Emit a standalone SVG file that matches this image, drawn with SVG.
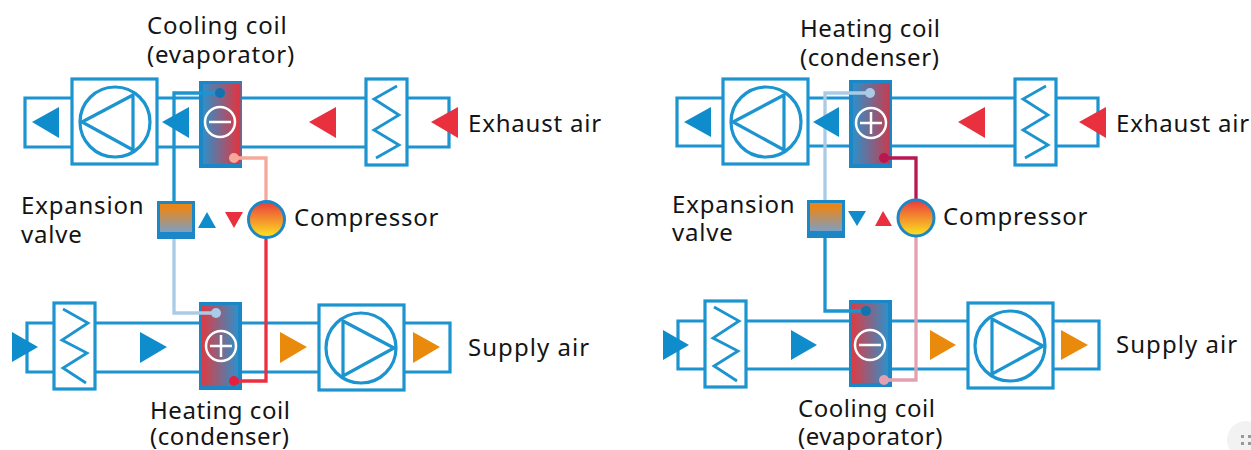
<svg xmlns="http://www.w3.org/2000/svg" width="1251" height="450" viewBox="0 0 1251 450">
<style>
.d{fill:none;stroke:#1c94cf;stroke-width:3.2}
.b{fill:#fff;stroke:#1c94cf;stroke-width:3.2}
.z{fill:none;stroke:#1c94cf;stroke-width:2.8}
.c{fill:none;stroke-width:3.3}
.w{fill:none;stroke:#fff;stroke-width:2.5}
.t{font-family:"Noto Sans",sans-serif;font-size:24px;fill:#141414;letter-spacing:.8px}
.h{letter-spacing:.55px}
.s{letter-spacing:1.05px}
.bl{fill:#0f8ccb}.rd{fill:#e8303f}.or{fill:#ea8a0c}
.k{fill:#1c87c6}
</style>
<defs>
<linearGradient id="br"><stop offset="0" stop-color="#2f8fc9"/><stop offset="1" stop-color="#e5333d"/></linearGradient>
<linearGradient id="br2"><stop offset="0" stop-color="#2f8fc9"/><stop offset="1" stop-color="#c83c4e"/></linearGradient>
<linearGradient id="rb"><stop offset="0" stop-color="#e03a40"/><stop offset="1" stop-color="#2f8fc9"/></linearGradient>
<linearGradient id="ov" x2="0" y2="1"><stop offset=".15" stop-color="#e8861a"/><stop offset="1" stop-color="#7d9fc4"/></linearGradient>
<linearGradient id="cp" x2="0" y2="1"><stop offset="0" stop-color="#ea3a3c"/><stop offset="1" stop-color="#fde61f"/></linearGradient>
<g id="fan"><rect class="b" x="0" y="0" width="85" height="85"/><circle class="d" cx="43" cy="43" r="35"/><path class="d" d="M10 43L61 16V71Z"/></g>
<g id="hx-top"><rect class="b" x="0" y="0" width="41" height="86"/><path class="z" d="M31 7L8 20L33 36L8 51L33 66L10 79"/></g>
<g id="hx-low"><rect class="b" x="0" y="0" width="41" height="86"/><path class="z" d="M9 6L34 20L8 37L33 50L9 65L32 80"/></g>
</defs>
<rect width="1251" height="450" fill="#fff"/>
<g id="left-ducts"><path class="d" d="M71 98H25V147H71M157 98H366M157 147H366M406 98H449V147H406"/><path class="d" d="M54 323H27V372H54M96 323H318M96 372H318M404 323H450V372H404"/></g>
<g id="right-ducts"><path class="d" d="M722 98H677V146H722M808 98H1015M808 146H1015M1055 98H1098V146H1055"/><path class="d" d="M705 321H678V369H705M747 321H967M747 369H967M1053 321H1099V369H1053"/></g>
<g id="fan-exhaust-1"><use href="#fan" x="72" y="79"/></g>
<g id="hx-exhaust-1"><use href="#hx-top" x="366" y="79"/></g>
<g id="hx-supply-1"><use href="#hx-low" x="54" y="303"/></g>
<g id="fan-supply-1"><g transform="translate(404 305) scale(-1 1)"><use href="#fan"/></g></g>
<g id="fan-exhaust-2"><use href="#fan" x="723" y="79"/></g>
<g id="hx-exhaust-2"><use href="#hx-top" x="1015" y="79"/></g>
<g id="hx-supply-2"><use href="#hx-low" x="705" y="301"/></g>
<g id="fan-supply-2"><g transform="translate(1053 303) scale(-1 1)"><use href="#fan"/></g></g>
<g id="coil-cool-1"><rect class="k" x="199" y="81" width="43" height="87"/><rect x="203" y="84" width="37.500" height="80" fill="url(#br)"/><circle class="w" cx="220" cy="122" r="15"/><path class="w" d="M209 122H231"/></g>
<g id="coil-heat-1"><rect class="k" x="199" y="302" width="43" height="88"/><rect x="201" y="305" width="37" height="81" fill="url(#rb)"/><circle class="w" cx="221" cy="346" r="15"/><path class="w" d="M210 346H232M221 335V357"/></g>
<g id="coil-heat-2"><rect class="k" x="849" y="80" width="43" height="88"/><rect x="853" y="83" width="37" height="81" fill="url(#br2)"/><circle class="w" cx="871" cy="123" r="15"/><path class="w" d="M860 123H882M871 112V134"/></g>
<g id="coil-cool-2"><rect class="k" x="849" y="300" width="43" height="87"/><rect x="851" y="303" width="37" height="80" fill="url(#rb)"/><circle class="w" cx="870" cy="345" r="15"/><path class="w" d="M859 345H881"/></g>
<g id="connectors">
<path class="c" stroke="#1c94cf" d="M174 201V93H220"/>
<path class="c" stroke="#f6a99a" d="M234 158H266V202"/>
<path class="c" stroke="#a9cbe6" d="M174 238V313H216"/>
<path class="c" stroke="#ea2f40" d="M266 238V381H234"/>
<path class="c" stroke="#a9cbe6" d="M825 200V93H870"/>
<path class="c" stroke="#b9174f" d="M884 158H916V200"/>
<path class="c" stroke="#1c94cf" d="M825 237V311H866"/>
<path class="c" stroke="#e2a0b2" d="M916 236V380H884"/>
</g>
<g id="ports"><circle cx="220" cy="93" r="5" fill="#1273ae"/><circle cx="234" cy="158" r="5" fill="#f6a99a"/><circle cx="216" cy="313" r="5" fill="#a9cbe6"/><circle cx="234" cy="381" r="5" fill="#e5203c"/><circle cx="870" cy="93" r="5" fill="#a9cbe6"/><circle cx="884" cy="158" r="5" fill="#b9174f"/><circle cx="866" cy="311" r="5" fill="#1273ae"/><circle cx="884" cy="380" r="5" fill="#e2a0b2"/></g>
<g id="valve-1"><rect class="k" x="157" y="201" width="38" height="38"/><rect x="160" y="204" width="32" height="28" fill="url(#ov)"/></g>
<g id="valve-2"><rect class="k" x="807" y="200" width="38" height="38"/><rect x="810" y="203" width="32" height="28" fill="url(#ov)"/></g>
<g id="compressor-1"><circle cx="266.500" cy="219.500" r="18" fill="url(#cp)" stroke="#1c87c6" stroke-width="3"/></g>
<g id="compressor-2"><circle cx="916" cy="218" r="18" fill="url(#cp)" stroke="#1c87c6" stroke-width="3"/></g>
<g id="arrows">
<path class="bl" d="M32 122L59 107V138Z"/><path class="bl" d="M162 122L189 107V138Z"/>
<path class="rd" d="M309 122L336 107V138Z"/><path class="rd" d="M431 122L458 107V138Z"/>
<path class="bl" d="M12 332L38 347L12 362Z"/><path class="bl" d="M140 332L167 347L140 363Z"/><path class="or" d="M280 332L307 347L280 363Z"/><path class="or" d="M413 332L440 347L413 363Z"/>
<path class="bl" d="M198 228L207 212L216 228Z"/><path class="rd" d="M225 212H243L234 228Z"/>
<path class="bl" d="M684 122L711 107V137Z"/><path class="bl" d="M813 122L839 107V137Z"/><path class="rd" d="M958 122L985 107V138Z"/><path class="rd" d="M1079 122L1106 107V138Z"/>
<path class="bl" d="M663 330L689 345L663 360Z"/><path class="bl" d="M791 330L817 345L791 360Z"/><path class="or" d="M930 330L956 345L930 360Z"/><path class="or" d="M1061 330L1088 345L1061 360Z"/>
<path class="bl" d="M848 211H866L857 226Z"/><path class="rd" d="M875 226L883 211L892 226Z"/>
</g>
<g id="labels" class="t">
<text x="147" y="34">Cooling coil</text><text x="147" y="63">(evaporator)</text>
<text x="468" y="132">Exhaust air</text>
<text x="21" y="214">Expansion</text><text x="21" y="243">valve</text>
<text x="294" y="226">Compressor</text>
<text class="s" x="468" y="356">Supply air</text>
<text class="h" x="150" y="419">Heating coil</text><text class="h" x="150" y="445">(condenser)</text>
<text class="h" x="800" y="37">Heating coil</text><text class="h" x="800" y="66">(condenser)</text>
<text x="1116" y="132">Exhaust air</text>
<text x="672" y="213">Expansion</text><text x="672" y="241">valve</text>
<text x="943" y="225">Compressor</text>
<text class="s" x="1116" y="353">Supply air</text>
<text class="h" x="798" y="417">Cooling coil</text><text class="h" x="798" y="445">(evaporator)</text>
</g>
<g id="corner-badge"><circle cx="1246" cy="440" r="19" fill="#f2f2f2"/><path d="M1241 435h3v3h-3zM1248 435h3v3h-3zM1241 442h3v3h-3zM1248 442h3v3h-3z" fill="#999"/></g>
</svg>
